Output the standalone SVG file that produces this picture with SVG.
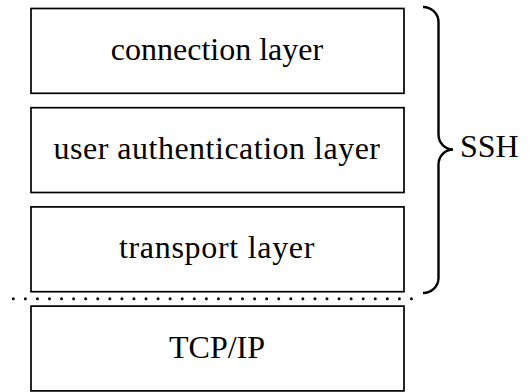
<svg xmlns="http://www.w3.org/2000/svg" width="530" height="392" viewBox="0 0 530 392">
<style>
.box{fill:#fff;stroke:#000;stroke-width:1.7}
.lbl{fill:#000}
.conn{fill:none;stroke:#000}
</style>
<rect width="530" height="392" fill="#fff"/>
<g id="connection">
<rect class="box" x="31" y="8.5" width="373" height="84.8"/>
<text class="lbl" x="217" y="60" font-family="'Liberation Serif'" font-size="32" text-anchor="middle">connection layer</text>
</g>
<g id="userauth">
<rect class="box" x="31" y="107.7" width="373" height="84.8"/>
<text class="lbl" x="217" y="159" font-family="'Liberation Serif'" font-size="32" text-anchor="middle" letter-spacing="0.5">user authentication layer</text>
</g>
<g id="transport">
<rect class="box" x="31" y="206.9" width="373" height="84.8"/>
<text class="lbl" x="217" y="258" font-family="'Liberation Serif'" font-size="32" text-anchor="middle" letter-spacing="0.7">transport layer</text>
</g>
<g id="tcpip">
<rect class="box" x="31" y="306.1" width="373" height="84.8"/>
<text class="lbl" x="217" y="357.5" font-family="'Liberation Serif'" font-size="32" text-anchor="middle">TCP/IP</text>
</g>
<g id="connectors">
<line class="conn" x1="13.3" y1="298.7" x2="423.5" y2="298.7" stroke-width="3" stroke-linecap="round" stroke-dasharray="0 12.065"/>
<path class="conn" stroke-width="2.4" d="M423,7 A15.5,15 0 0 1 438.5,22 L438.5,134.5 A14.5,15 0 0 0 453,149.5 A14.5,15 0 0 0 438.5,164.5 L438.5,278 A15.5,15 0 0 1 423,293"/>
</g>
<g id="ssh">
<text class="lbl" x="460" y="157" font-family="'Liberation Serif'" font-size="32">SSH</text>
</g>
</svg>
